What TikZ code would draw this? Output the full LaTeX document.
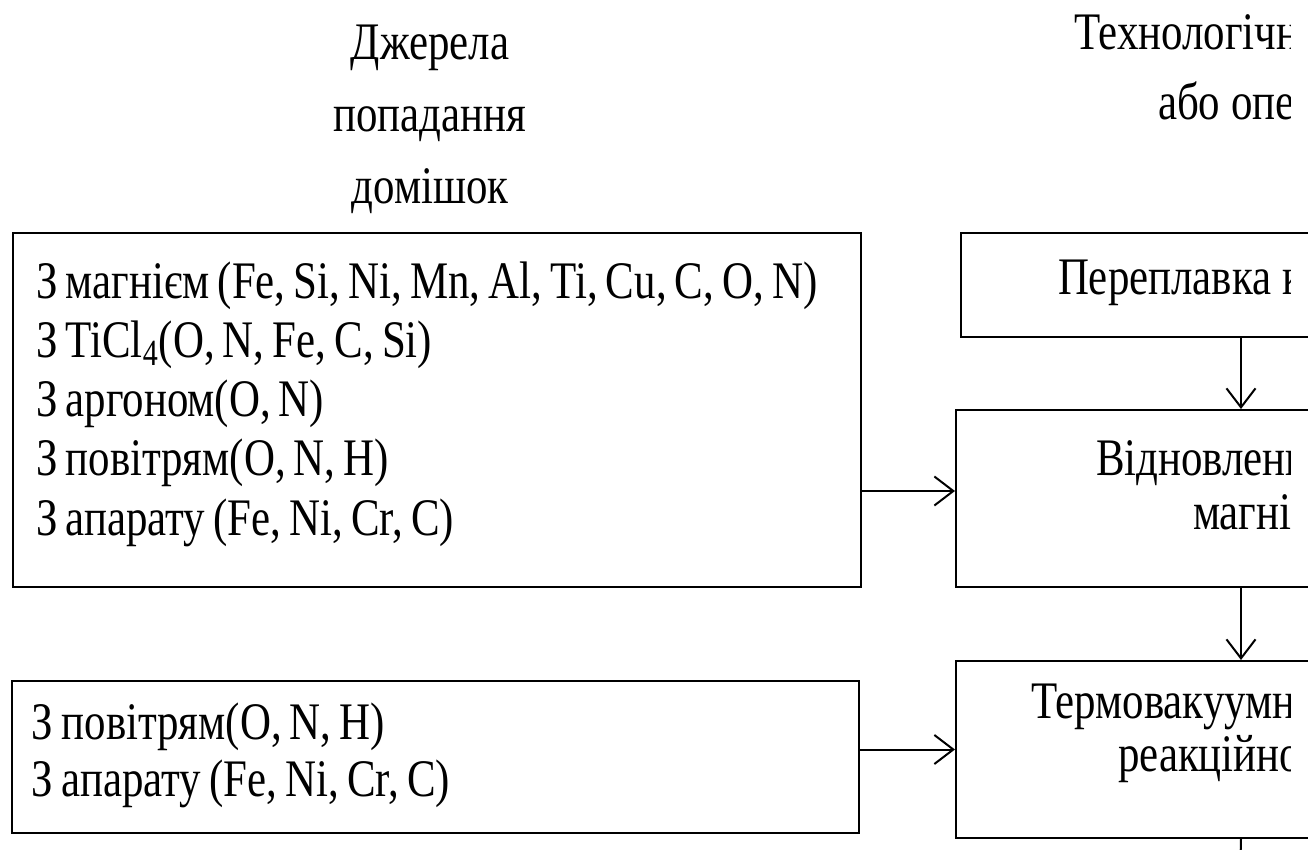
\documentclass[tikz,border=0pt]{standalone}
\usepackage{fontspec}
\setmainfont{Liberation Serif}
\usetikzlibrary{arrows.meta}

\begin{document}
\begin{tikzpicture}[x=0.5pt, y=-0.5pt, line width=1pt,
        box/.style = {draw, rectangle, inner sep=0pt, anchor=north west},
        txt/.style = {inner sep=0pt, yscale=1.23, font=\fontsize{21.45pt}{24pt}\selectfont},
        list/.style = {txt, align=left, anchor=north west, font={\fontsize{21.45pt}{#1}\selectfont\spaceskip=0.19em\relax}},
        arr/.style = {-{Straight Barb[length=9.5pt, width=14.5pt]}}]
    \useasboundingbox (0,0) rectangle (1308,850);
    \clip (0,0) rectangle (1308,850);

    \node[box, minimum width=424pt, minimum height=177pt] (src1) at (12,232) {};
    \node[box, minimum width=423.5pt, minimum height=76pt] (src2) at (11,680) {};
    \node[box, minimum width=280pt, minimum height=52pt] (r1) at (960,232) {};
    \node[box, minimum width=285pt, minimum height=88.5pt] (r2) at (955,409) {};
    \node[box, minimum width=285pt, minimum height=88.5pt] (r3) at (955,660) {};

    \node[txt, align=center, anchor=north, font=\fontsize{21.45pt}{29.3pt}\selectfont] (hl) at (430,24) {Джерела\\попадання\\домішок};

    \node[list=24pt] (s1) at (35,261) {З магнієм (Fe, Si, Ni, Mn, Al, Ti, Cu, C, O, N)\\З TiCl\textsubscript{4}(O, N, Fe, C, Si)\\З аргоном(O, N)\\З повітрям(O, N, H)\\З апарату (Fe, Ni, Cr, C)};
    \node[list=23.2pt] (s2) at (31,702) {З повітрям(O, N, H)\\З апарату (Fe, Ni, Cr, C)};

    \begin{scope}
        \clip (0,0) rectangle (1290,850);
        \node[txt, anchor=base west] (hr1) at (1073,50) {Технологічні};
        \node[txt, anchor=base west] (hr2) at (1157,120) {або опер};
        \node[txt, anchor=base west] (p1) at (1057,295) {Переплавка к};
        \node[txt, anchor=base west] (p2) at (1095,475) {Відновленн};
        \node[txt, anchor=base west] (p2b) at (1192,530) {магні};
        \node[txt, anchor=base west] (p3) at (1030,718) {Термовакуумн};
        \node[txt, anchor=base west] (p3b) at (1117,771) {реакційно};
    \end{scope}

    \coordinate (in2) at ([yshift=3.75pt]r2.west);
    \coordinate (out) at (1240,880);
    \draw[arr] (src1.east |- in2) -- (in2);
    \draw[arr] (src2.east |- r3.west) -- (r3.west);
    \foreach \a/\b in {r1/r2, r2/r3}{
        \draw[arr] (\a.south) -- (\b.north);
    }
    \draw (r3.south) -- (out);
\end{tikzpicture}
\end{document}
